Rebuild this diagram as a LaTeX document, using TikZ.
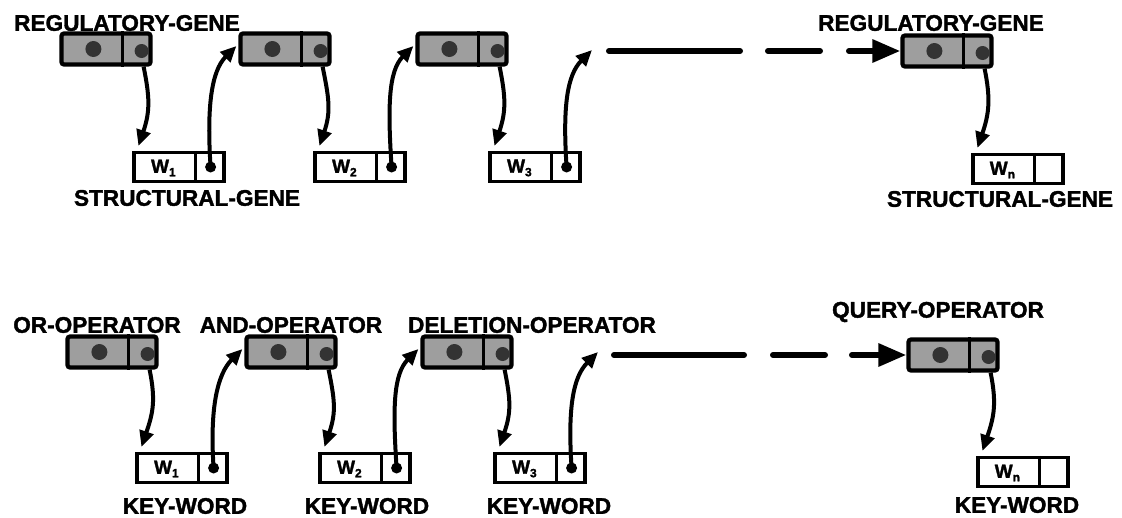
\documentclass[tikz,border=0pt]{standalone}
\usepackage{fontspec}
\setmainfont{Liberation Sans}[BoldFeatures={FakeBold=1.6}]
\usetikzlibrary{calc,arrows.meta}
\tikzset{
  lbl/.style={font=\fontsize{22.6}{26}\selectfont\bfseries, inner sep=0pt, anchor=center},
  gbox/.style={draw=black, line width=4.2pt, fill=black!38, rounded corners=2.5pt, minimum width=89pt, minimum height=31pt, inner sep=0pt},
  wbox/.style={draw=black, line width=3.2pt, fill=white, minimum width=90pt, minimum height=29pt, inner sep=0pt},
  wtxt/.style={font=\fontsize{19}{22}\selectfont\bfseries, inner sep=0pt},
  ptr/.style={circle, fill=black, inner sep=0pt, minimum size=11pt},
  blob/.style={fill=black!80},
  link/.style={line width=4pt, -{Triangle[length=16pt,width=14pt]}},
  dashlink/.style={line width=6pt, line cap=round},
  dashhead/.style={line width=6pt, line cap=round, -{Triangle[length=28pt,width=22pt]}},
}
\newcommand\wboxat[5]{%
  \node[wbox] (#1) at (#2,#3) {};
  \draw[line width=3pt] ($(#1.north east)+(-30,0)$) -- ($(#1.south east)+(-30,0)$);
  \node[wtxt] (#1t) at ($(#1.west)+(31,1)$) {W\raisebox{-0.35ex}{\fontsize{12}{13}\selectfont #4}};
  \coordinate (#1in) at ($(#1.north west)+(6,-5)$);
  \ifnum#5=1 \node[ptr] (#1dot) at ($(#1.east)+(-15,0)$) {};\fi
}
\newcommand\gboxat[3]{%
  \node[gbox] (#1) at (#2,#3) {};
  \draw[line width=3.5pt] ($(#1.north west)+(63,0)$) -- ($(#1.south west)+(63,0)$);
  \fill[blob] ($(#1.west)+(34,0)$) circle (8);
  \fill[blob] ($(#1.east)+(-11,2)$) circle (7);
  \coordinate (#1r) at ($(#1.south east)+(-9,0)$);
  \coordinate (#1l) at ($(#1.west)+(-2,-3)$);
}
\begin{document}
\begin{tikzpicture}[x=1pt,y=-1pt]
\useasboundingbox (0,0) rectangle (1122,517);
% ---------------- top row ----------------
\gboxat{tg1}{106}{49}
\gboxat{tg2}{285}{49}
\gboxat{tg3}{462}{49}
\gboxat{tgn}{947}{51}
\wboxat{tw1}{179}{167}{1}{1}
\wboxat{tw2}{360}{167}{2}{1}
\wboxat{tw3}{535}{167}{3}{1}
\wboxat{twn}{1018}{169}{n}{0}
\node[lbl] (tl1) at (127,23) {REGULATORY-GENE};
\node[lbl] (tl2) at (931,23) {REGULATORY-GENE};
\node[lbl] (tl3) at (187,198) {STRUCTURAL-GENE};
\node[lbl] (tl4) at (1000,199) {STRUCTURAL-GENE};
\draw[link] (tg1r) .. controls +(6,30) and +(12,-35) .. (tw1in);
\draw[link] (tw1dot.center) .. controls +(-4,-60) and +(-25,25) .. (tg2l);
\draw[link] (tg2r) .. controls +(6,30) and +(12,-35) .. (tw2in);
\draw[link] (tw2dot.center) .. controls +(-4,-60) and +(-25,25) .. (tg3l);
\draw[link] (tg3r) .. controls +(6,30) and +(12,-35) .. (tw3in);
\coordinate (tfree) at (592,50);
\draw[link] (tw3dot.center) .. controls +(-4,-60) and +(-25,25) .. (tfree);
\draw[link] (tgnr) .. controls +(6,30) and +(12,-35) .. (twnin);
\coordinate (td1) at (609,51);
\coordinate (td2) at (740,51);
\coordinate (td3) at (768,51);
\coordinate (td4) at (820,51);
\coordinate (td5) at (849,51);
\draw[dashlink] (td1) -- (td2);
\draw[dashlink] (td3) -- (td4);
\draw[dashhead] (td5) -- (tgn.west);
% ---------------- bottom row ----------------
\gboxat{bg1}{112}{352}
\gboxat{bg2}{291}{352}
\gboxat{bg3}{467}{352}
\gboxat{bgn}{953}{355}
\wboxat{bw1}{182}{468}{1}{1}
\wboxat{bw2}{365}{468}{2}{1}
\wboxat{bw3}{540}{468}{3}{1}
\wboxat{bwn}{1023}{472}{n}{0}
\node[lbl] (bl1) at (97,325) {OR-OPERATOR};
\node[lbl] (bl2) at (291,325) {AND-OPERATOR};
\node[lbl] (bl3) at (532,325) {DELETION-OPERATOR};
\node[lbl] (bl4) at (938,312) {QUERY-OPERATOR};
\node[lbl] (bk1) at (185,506) {KEY-WORD};
\node[lbl] (bk2) at (367,506) {KEY-WORD};
\node[lbl] (bk3) at (549,506) {KEY-WORD};
\node[lbl] (bk4) at (1017,505) {KEY-WORD};
\draw[link] (bg1r) .. controls +(6,30) and +(12,-35) .. (bw1in);
\draw[link] (bw1dot.center) .. controls +(-4,-60) and +(-25,25) .. (bg2l);
\draw[link] (bg2r) .. controls +(6,30) and +(12,-35) .. (bw2in);
\draw[link] (bw2dot.center) .. controls +(-4,-60) and +(-25,25) .. (bg3l);
\draw[link] (bg3r) .. controls +(6,30) and +(12,-35) .. (bw3in);
\coordinate (bfree) at (598,352);
\draw[link] (bw3dot.center) .. controls +(-4,-60) and +(-25,25) .. (bfree);
\draw[link] (bgnr) .. controls +(6,30) and +(12,-35) .. (bwnin);
\coordinate (bd1) at (614,355);
\coordinate (bd2) at (744,355);
\coordinate (bd3) at (773,355);
\coordinate (bd4) at (825,355);
\coordinate (bd5) at (852,355);
\draw[dashlink] (bd1) -- (bd2);
\draw[dashlink] (bd3) -- (bd4);
\draw[dashhead] (bd5) -- (bgn.west);
\end{tikzpicture}
\end{document}
